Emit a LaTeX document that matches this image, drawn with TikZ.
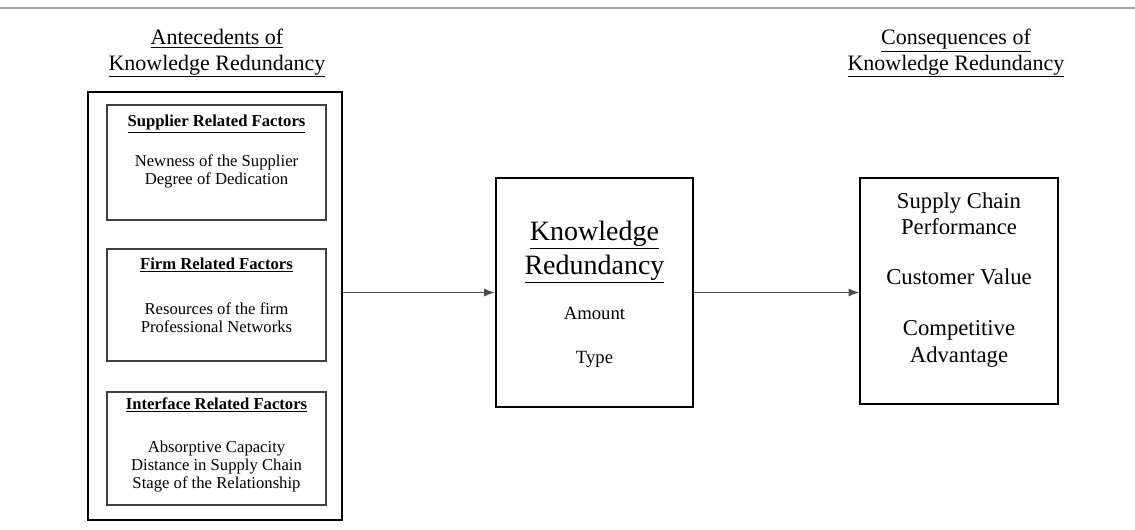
\documentclass[tikz,border=0pt]{standalone}
\usepackage{fontspec}
\setmainfont{Liberation Serif}
\usetikzlibrary{arrows.meta,positioning}
\tikzset{
  factorbox/.style={draw=black!75,line width=0.8pt,minimum width=164.25pt,inner sep=0pt},
  factortext/.style={align=center,inner sep=0pt,font=\fontsize{12.5}{13.5}\selectfont},
  headtext/.style={align=center,inner sep=0pt,anchor=north,font=\fontsize{16.5}{19}\selectfont},
  flow/.style={-{Latex[length=8pt,width=6pt]},draw=black!70,line width=0.7pt},
}
\begin{document}
\begin{tikzpicture}[x=0.75pt,y=-0.75pt]
\useasboundingbox (0,0) rectangle (1135,530);
\draw[black!35,line width=0.8pt] (0,8) -- (1135,8);
% headings
\node[headtext](ant) at (217,29){\underline{Antecedents of}\\\underline{Knowledge Redundancy}};
\node[headtext](con) at (956,29){\underline{Consequences of}\\\underline{Knowledge Redundancy}};
% antecedents
\node[draw,line width=1.4pt,minimum width=190.5pt,minimum height=321pt](outer) at (215,306){};
\node[factorbox,minimum height=86.25pt](sup) at (216.5,162.5){};
\node[factortext,below=8pt of sup.north](suptext){\textbf{\underline{Supplier Related Factors}}\\[16.5pt]Newness of the Supplier\\Degree of Dedication};
\node[factorbox,minimum height=84pt](firm) at (216.5,305){};
\node[factortext,below=7pt of firm.north](firmtext){\textbf{\underline{Firm Related Factors}}\\[20.5pt]Resources of the firm\\Professional Networks};
\node[factorbox,minimum height=84.75pt](intf) at (216.5,448.5){};
\node[factortext,below=4.5pt of intf.north](intftext){\textbf{\underline{Interface Related Factors}}\\[18.5pt]Absorptive Capacity\\Distance in Supply Chain\\Stage of the Relationship};
% knowledge redundancy
\node[draw,line width=1.8pt,minimum width=147.75pt,minimum height=171.75pt](kr) at (594.5,292.5){};
\node[align=center,inner sep=0pt,font=\fontsize{21}{25}\selectfont](krtitle) at (594.5,252){\underline{Knowledge}\\\underline{Redundancy}};
\node[inner sep=0pt,font=\fontsize{14}{17}\selectfont](amount) at (594.5,313){Amount};
\node[inner sep=0pt,font=\fontsize{14}{17}\selectfont](type) at (594.5,359){Type};
% consequences
\node[draw,line width=1.1pt,minimum width=148.5pt,minimum height=169.5pt](cons) at (959,291){};
\node[align=center,inner sep=0pt,font=\fontsize{17}{20}\selectfont](constext) at ([yshift=8.5pt]cons.center){Supply Chain\\Performance\\[17.5pt]Customer Value\\[18pt]Competitive\\Advantage};
\draw[flow] (outer.east |- kr.west) -- (kr.west);
\draw[flow] (kr.east) -- (kr.east -| cons.west);
\end{tikzpicture}
\end{document}
